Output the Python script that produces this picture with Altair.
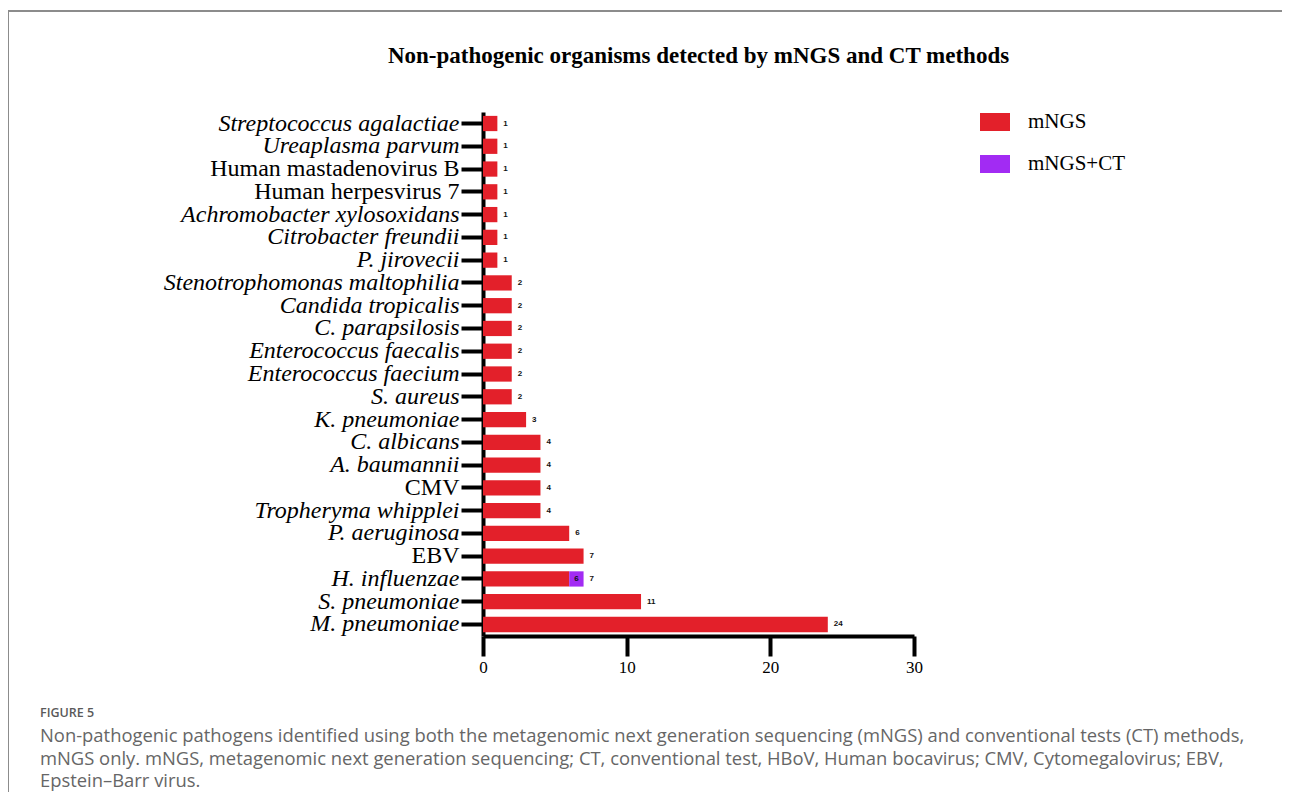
import altair as alt
import pandas as pd

categories = [
    "Streptococcus agalactiae", "Ureaplasma parvum", "Human mastadenovirus B",
    "Human herpesvirus 7", "Achromobacter xylosoxidans", "Citrobacter freundii",
    "P. jirovecii", "Stenotrophomonas maltophilia", "Candida tropicalis",
    "C. parapsilosis", "Enterococcus faecalis", "Enterococcus faecium",
    "S. aureus", "K. pneumoniae", "C. albicans", "A. baumannii", "CMV",
    "Tropheryma whipplei", "P. aeruginosa", "EBV", "H. influenzae",
    "S. pneumoniae", "M. pneumoniae",
]
mngs = [1, 1, 1, 1, 1, 1, 1, 2, 2, 2, 2, 2, 2, 3, 4, 4, 4, 4, 6, 7, 6, 11, 24]
mngs_ct = [0, 0, 0, 0, 0, 0, 0, 0, 0, 0, 0, 0, 0, 0, 0, 0, 0, 0, 0, 0, 1, 0, 0]
inner_labels = ["", "", "", "", "", "", "", "", "", "", "", "", "", "", "", "", "", "", "", "", "6", "", ""]
non_italic = ["Human mastadenovirus B", "Human herpesvirus 7", "CMV", "EBV"]
groups = ["mNGS", "mNGS+CT"]
colors = ["#E3202A", "#A22BF3"]
x_ticks = [0, 10, 20, 30]

title_text = "Non-pathogenic organisms detected by mNGS and CT methods"
fig_label = "FIGURE 5"
caption_lines = [
    "Non-pathogenic pathogens identified using both the metagenomic next generation sequencing (mNGS) and conventional tests (CT) methods,",
    "mNGS only. mNGS, metagenomic next generation sequencing; CT, conventional test, HBoV, Human bocavirus; CMV, Cytomegalovirus; EBV,",
    "Epstein\u2013Barr virus.",
]

rows = []
for c, a, b in zip(categories, mngs, mngs_ct):
    if a > 0:
        rows.append({"category": c, "group": groups[0], "value": a, "order": 0})
    if b > 0:
        rows.append({"category": c, "group": groups[1], "value": b, "order": 1})
bars_df = pd.DataFrame(rows)

totals_df = pd.DataFrame({
    "category": categories,
    "total": [a + b for a, b in zip(mngs, mngs_ct)],
})
totals_df["label"] = totals_df["total"].astype(str)

inner_df = pd.DataFrame({
    "category": categories,
    "pos": [a + b / 2 for a, b in zip(mngs, mngs_ct)],
    "label": inner_labels,
})
inner_df = inner_df[inner_df["label"] != ""]

W, H = 431, 524
serif = "Liberation Serif"

italic_test = "indexof(" + str(non_italic) + ", datum.value) >= 0"

y_enc = alt.Y(
    "category:N",
    sort=categories,
    scale=alt.Scale(paddingInner=0.33, paddingOuter=0.17),
    axis=alt.Axis(
        title=None,
        labelFont=serif,
        labelFontSize=24,
        labelColor="black",
        labelFontStyle={"condition": {"test": italic_test, "value": "normal"}, "value": "italic"},
        labelPadding=2,
        labelLimit=600,
        labelOverlap=False,
        tickSize=22,
        tickWidth=4,
        tickColor="black",
        domainWidth=4,
        domainColor="black",
    ),
)

bars = alt.Chart(bars_df).mark_bar().encode(
    x=alt.X(
        "value:Q",
        stack="zero",
        scale=alt.Scale(domain=[0, 30], nice=False),
        axis=alt.Axis(
            title=None,
            values=x_ticks,
            labelFont=serif,
            labelFontSize=17,
            labelColor="black",
            labelPadding=3,
            labelFlush=False,
            tickSize=20,
            tickWidth=4,
            tickColor="black",
            domainWidth=4,
            domainColor="black",
            grid=False,
        ),
    ),
    y=y_enc,
    color=alt.Color(
        "group:N",
        scale=alt.Scale(domain=groups, range=colors),
        legend=alt.Legend(
            title=None,
            orient="none",
            legendX=497,
            legendY=-5,
            symbolType="M-1,-0.6H1V0.6H-1Z",
            symbolSize=900,
            symbolStrokeWidth=0,
            symbolOpacity=1,
            labelFont=serif,
            labelFontSize=21,
            labelColor="black",
            labelOffset=18,
            rowPadding=17,
            padding=0,
        ),
    ),
    order=alt.Order("order:Q"),
)

total_text = alt.Chart(totals_df).mark_text(
    align="left", baseline="middle", dx=6, fontSize=8, fontWeight="bold",
    font="Liberation Sans", color="#111111",
).encode(
    x=alt.X("total:Q"),
    y=alt.Y("category:N", sort=categories),
    text="label:N",
)

inner_text = alt.Chart(inner_df).mark_text(
    align="center", baseline="middle", fontSize=8, fontWeight="bold",
    font="Liberation Sans", color="#111111",
).encode(
    x=alt.X("pos:Q"),
    y=alt.Y("category:N", sort=categories),
    text="label:N",
)

frame_df = pd.DataFrame({"k": [0]})
frame_left = alt.Chart(frame_df).mark_rule(color="#8c8c8c", strokeWidth=2).encode(
    x=alt.value(-475), x2=alt.value(-475), y=alt.value(-101), y2=alt.value(690)
)
frame_top = alt.Chart(frame_df).mark_rule(color="#8c8c8c", strokeWidth=2).encode(
    x=alt.value(-476), x2=alt.value(800), y=alt.value(-101), y2=alt.value(-101)
)

title_df = pd.DataFrame({"t": [title_text]})
title_mark = alt.Chart(title_df).mark_text(
    align="center", baseline="middle", font=serif, fontSize=23,
    fontWeight="bold", color="black",
).encode(x=alt.value(W / 2), y=alt.value(-56), text="t:N")

fig_df = pd.DataFrame({"t": [fig_label]})
fig_text = alt.Chart(fig_df).mark_text(
    align="left", baseline="middle", font="Open Sans", fontSize=12.5,
    fontWeight=600, color="#5a5a5a",
).encode(x=alt.value(-443), y=alt.value(601), text="t:N")

cap_layers = []
cap_y = [624, 647, 669]
for line, yy in zip(caption_lines, cap_y):
    d = pd.DataFrame({"t": [line]})
    cap_layers.append(
        alt.Chart(d).mark_text(
            align="left", baseline="middle", font="Open Sans", fontSize=18.4,
            color="#666666",
        ).encode(x=alt.value(-443), y=alt.value(yy), text="t:N")
    )

chart = alt.layer(
    frame_left, frame_top, title_mark, bars, total_text, inner_text, fig_text, *cap_layers
).properties(
    width=W,
    height=H,
    background="white",
    autosize=alt.AutoSizeParams(type="none"),
    padding={"left": 475, "top": 104, "right": 368, "bottom": 156},
).configure_view(stroke=None)

chart.save("out.html", embed_options={"renderer": "svg", "actions": False})
